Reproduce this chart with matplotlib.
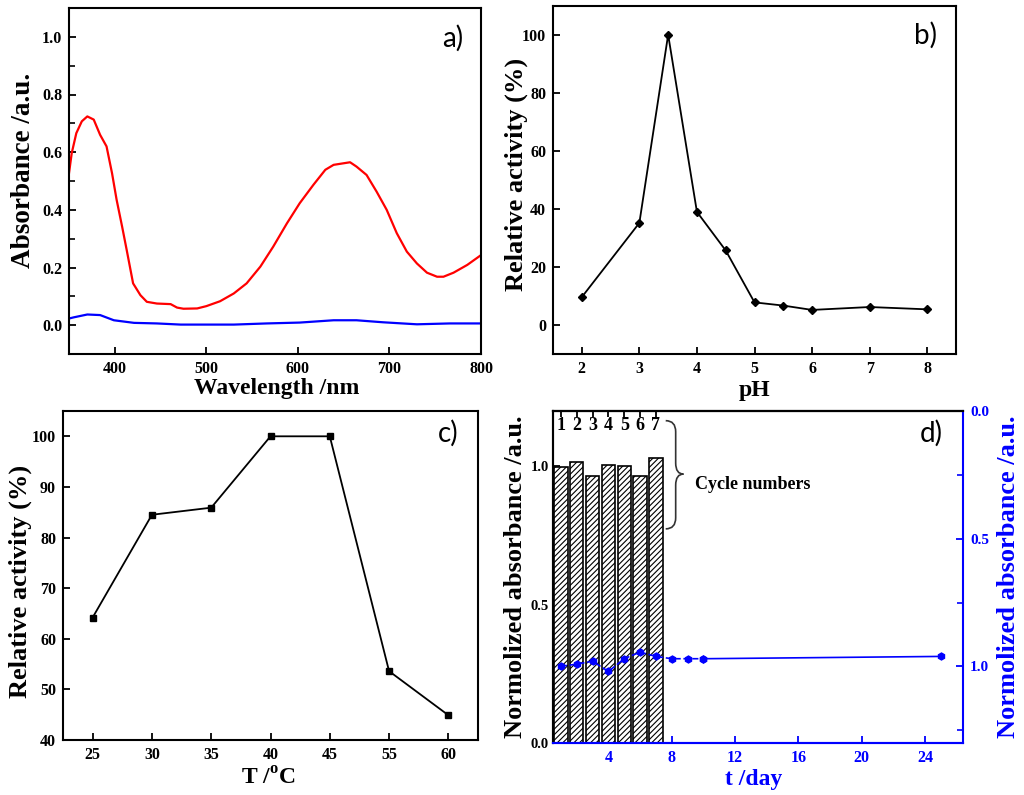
import matplotlib
matplotlib.use('Agg')
import matplotlib.pyplot as plt
from matplotlib.path import Path
from matplotlib.patches import PathPatch
from matplotlib.ticker import MultipleLocator

plt.rcParams['font.family'] = ['Liberation Serif', 'DejaVu Serif']
plt.rcParams['font.weight'] = 'bold'
plt.rcParams['axes.labelweight'] = 'bold'
plt.rcParams['mathtext.fontset'] = 'custom'
plt.rcParams['mathtext.rm'] = 'Liberation Serif:bold'
plt.rcParams['mathtext.bf'] = 'Liberation Serif:bold'
plt.rcParams['hatch.linewidth'] = 0.8

# a) UV-vis spectra
wl_red = [350, 353, 358, 364, 370, 377, 384, 391, 397, 402, 408, 413, 420, 428, 435, 446,
          461, 468, 475, 490, 500, 515, 530, 544, 559, 573, 588, 602, 617, 630, 639, 657,
          664, 675, 686, 697, 708, 719, 730, 741, 752, 759, 770, 785, 800]
abs_red = [0.527, 0.597, 0.666, 0.707, 0.724, 0.713, 0.660, 0.620, 0.527, 0.435, 0.342, 0.261,
           0.145, 0.104, 0.081, 0.075, 0.073, 0.061, 0.057, 0.058, 0.066, 0.083, 0.110, 0.145,
           0.203, 0.272, 0.353, 0.423, 0.487, 0.539, 0.556, 0.565, 0.550, 0.521, 0.463, 0.400,
           0.319, 0.255, 0.214, 0.182, 0.168, 0.168, 0.182, 0.209, 0.243]
wl_blue = [350, 355, 370, 384, 399, 421, 446, 472, 530, 566, 602, 639, 664, 693, 730, 766, 800]
abs_blue = [0.023, 0.027, 0.037, 0.035, 0.017, 0.008, 0.006, 0.002, 0.002, 0.006, 0.009,
            0.017, 0.017, 0.010, 0.003, 0.006, 0.006]

# b) pH dependence
ph = [2, 3, 3.5, 4, 4.5, 5, 5.5, 6, 7, 8]
act_ph = [9.6, 35.2, 100.1, 39.0, 25.7, 7.8, 6.7, 5.2, 6.2, 5.4]

# c) temperature dependence
temps = ['25', '30', '35', '40', '45', '55', '60']
act_t = [64.2, 84.5, 85.9, 100.0, 100.0, 53.6, 44.9]

# d) cycles and storage
cycles = [1, 2, 3, 4, 5, 6, 7]
cycle_abs = [0.996, 1.016, 0.965, 1.005, 1.000, 0.965, 1.030]
days = [1, 2, 3, 4, 5, 6, 7, 8, 9, 10, 25]
day_abs = [1.000, 0.991, 0.980, 1.020, 0.970, 0.944, 0.961, 0.970, 0.970, 0.970, 0.961]

blue = '#0000ff'
W, H = 1024, 795
fig = plt.figure(figsize=(W / 100, H / 100), dpi=100)


def px_axes(l, t, r, b):
    return fig.add_axes([l / W, 1 - b / H, (r - l) / W, (b - t) / H])


def style(ax):
    for s in ax.spines.values():
        s.set_linewidth(1.5)
    ax.tick_params(direction='in', length=5, width=1.3, labelsize=11.5, pad=5)
    ax.tick_params(which='minor', direction='in', length=4, width=1.2)


def panel_label(ax, txt, x, y):
    ax.text(x, y, txt, transform=ax.transAxes, ha='right', va='center',
            fontsize=20, fontweight='normal', family=['Lato', 'DejaVu Sans'])


# ---- a)
ax = px_axes(69, 8, 481, 354)
style(ax)
ax.plot(wl_red, abs_red, color='#ff0000', lw=1.6)
ax.plot(wl_blue, abs_blue, color=blue, lw=1.6)
ax.set_xlim(350, 800)
ax.set_ylim(-0.1, 1.1)
ax.set_xticks([400, 500, 600, 700, 800])
ax.set_yticks([0.0, 0.2, 0.4, 0.6, 0.8, 1.0])
ax.yaxis.set_minor_locator(MultipleLocator(0.1))
ax.set_xlabel('Wavelength /nm', fontsize=17)
ax.set_ylabel('Absorbance /a.u.', fontsize=19.5)
ax.xaxis.set_label_coords(0.505, -0.07)
ax.yaxis.set_label_coords(-0.08, 0.53)
panel_label(ax, 'a)', 0.956, 0.913)

# ---- b)
ax = px_axes(553, 6, 956, 354)
style(ax)
ax.plot(ph, act_ph, color='black', lw=1.3, marker='D', ms=4.5)
ax.set_xlim(1.5, 8.5)
ax.set_ylim(-10, 110)
ax.set_xticks([2, 3, 4, 5, 6, 7, 8])
ax.set_yticks([0, 20, 40, 60, 80, 100])
ax.set_xlabel('pH', fontsize=17)
ax.set_ylabel('Relative activity (%)', fontsize=19)
ax.xaxis.set_label_coords(0.5, -0.075)
ax.yaxis.set_label_coords(-0.062, 0.517)
panel_label(ax, 'b)', 0.953, 0.917)

# ---- c)
ax = px_axes(63, 411, 478, 740)
style(ax)
pos = list(range(len(temps)))
ax.plot(pos, act_t, color='black', lw=1.3, marker='s', ms=5)
ax.set_xlim(-0.5, 6.5)
ax.set_ylim(40, 105)
ax.set_xticks(pos, temps)
ax.set_yticks([40, 50, 60, 70, 80, 90, 100])
ax.set_xlabel(r'T /$^{\mathrm{o}}$C', fontsize=17)
ax.set_ylabel('Relative activity (%)', fontsize=19)
ax.xaxis.set_label_coords(0.494, -0.085)
ax.yaxis.set_label_coords(-0.075, 0.483)
panel_label(ax, 'c)', 0.952, 0.933)

# ---- d)
ax = px_axes(553, 411, 963, 743)
style(ax)
ax.bar(cycles, cycle_abs, width=0.84, color='white', edgecolor='black', lw=1.2,
       hatch='//////', zorder=2)
ax.set_xlim(0.5, 26.4)
ax.set_ylim(0, 1.2)
ax.set_yticks([0.0, 0.5, 1.0])
ax.set_xticks([4, 8, 12, 16, 20, 24])
ax.tick_params(axis='y', labelsize=10.5, pad=3)
ax.tick_params(axis='x', colors=blue, labelcolor=blue)
ax.spines['bottom'].set_color(blue)
ax.spines['right'].set_visible(False)
ax.set_xlabel('t /day', fontsize=17, color=blue)
ax.set_ylabel('Normolized absorbance /a.u.', fontsize=19)
ax.xaxis.set_label_coords(0.49, -0.078)
ax.yaxis.set_label_coords(-0.063, 0.5)

top = ax.secondary_xaxis('top')
top.set_xticks(cycles, [''] * len(cycles))
top.tick_params(direction='in', length=4, width=1.3)
top.spines['top'].set_linewidth(1.5)
for c in cycles:
    ax.text(c, 1.148, str(c), ha='center', va='center', fontsize=13)

# brace next to the cycle numbers
x0, xm, xt = 7.62, 8.25, 8.74
yt, ymid, yb, r = 1.165, 0.972, 0.774, 0.04
verts = [(x0, yt), (xm, yt), (xm, yt - r),
         (xm, ymid + r), (xm, ymid), (xt, ymid),
         (xm, ymid), (xm, ymid - r),
         (xm, yb + r), (xm, yb), (x0, yb)]
codes = [Path.MOVETO, Path.CURVE3, Path.CURVE3,
         Path.LINETO, Path.CURVE3, Path.CURVE3,
         Path.CURVE3, Path.CURVE3,
         Path.LINETO, Path.CURVE3, Path.CURVE3]
ax.add_patch(PathPatch(Path(verts, codes), fill=False, lw=1.2, color='#333333'))
ax.text(9.5, 0.936, 'Cycle numbers', ha='left', va='center', fontsize=13)
panel_label(ax, 'd)', 0.951, 0.934)

ax2 = ax.twinx()
ax2.plot(days[:10], day_abs[:10], color=blue, ls='--', lw=1.2, marker='h', ms=5)
ax2.plot(days[9:], day_abs[9:], color=blue, ls='-', lw=1.2, marker='h', ms=5)
ax2.set_ylim(1.3, 0.0)
ax2.set_yticks([0.0, 0.5, 1.0])
ax2.yaxis.set_minor_locator(MultipleLocator(0.25))
for s in ax2.spines.values():
    s.set_linewidth(1.5)
ax2.spines['right'].set_color(blue)
ax2.spines['bottom'].set_color(blue)
ax2.tick_params(axis='y', direction='in', length=5, width=1.3, colors=blue,
                labelcolor=blue, labelsize=11, pad=5)
ax2.tick_params(axis='y', which='minor', direction='in', length=4, width=1.2, colors=blue)
ax2.set_ylabel('Normolized absorbance /a.u.', fontsize=19, color=blue)
ax2.yaxis.set_label_coords(1.083, 0.5)

fig.savefig('out.png', dpi=100)
